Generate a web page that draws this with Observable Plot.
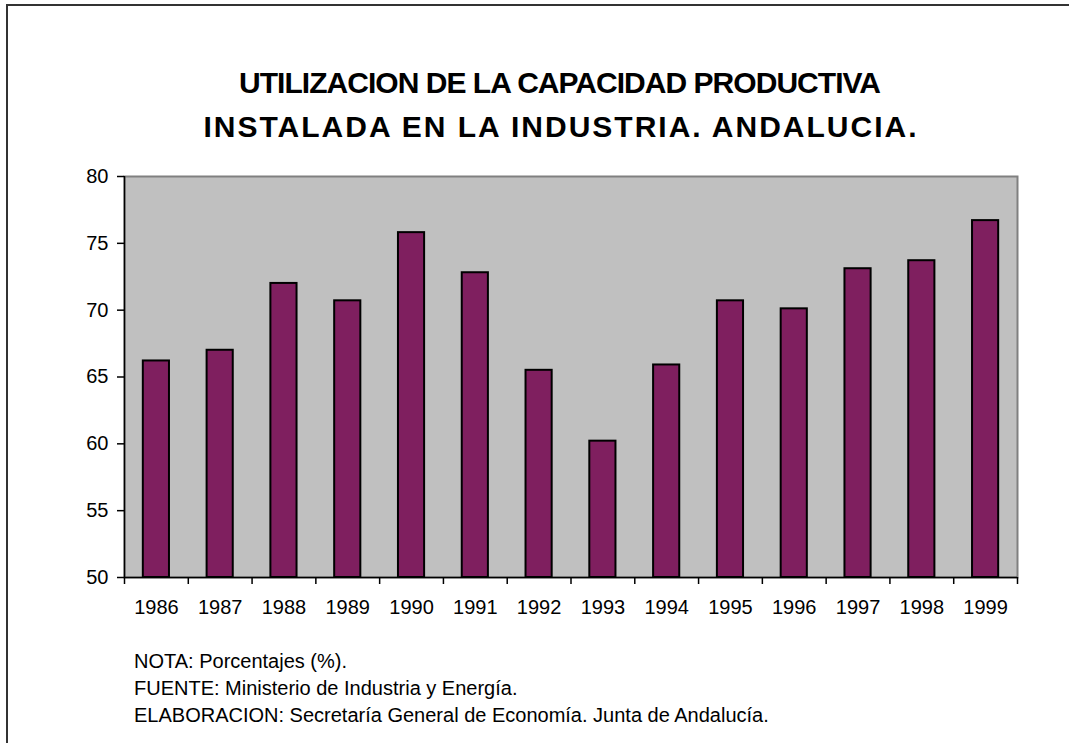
<!DOCTYPE html>
<html><head><meta charset="utf-8">
<script src="https://cdn.jsdelivr.net/npm/d3@7"></script>
<script src="https://cdn.jsdelivr.net/npm/@observablehq/plot@0.6"></script>
<style>
body{margin:0;background:#fff;}
#wrap{position:relative;width:1069px;height:743px;overflow:hidden;font-family:Arial,"Liberation Sans",sans-serif;background:#fff;}
#border{position:absolute;left:6px;top:4px;width:2000px;height:2000px;border-left:2px solid #333;border-top:2px solid #333;}
#title{position:absolute;left:0;top:0;}
#chart{position:absolute;left:0;top:150px;}
#notes{position:absolute;left:0;top:630px;}
</style></head><body>
<div id="wrap"><div id="border"></div><svg id="title" width="1069" height="150"></svg><div id="chart"></div><svg id="notes" width="1069" height="113"></svg></div>
<script>
const years = ["1986","1987","1988","1989","1990","1991","1992","1993","1994","1995","1996","1997","1998","1999"];
const values = [66.2, 67.0, 72.0, 70.7, 75.8, 72.8, 65.5, 60.2, 65.9, 70.7, 70.1, 73.1, 73.7, 76.7];
const yTicks = [50, 55, 60, 65, 70, 75, 80];
const titleLines = ["UTILIZACION DE LA CAPACIDAD PRODUCTIVA", "INSTALADA EN LA INDUSTRIA. ANDALUCIA."];
const noteLines = ["NOTA: Porcentajes (%).", "FUENTE: Ministerio de Industria y Energía.", "ELABORACION: Secretaría General de Economía. Junta de Andalucía."];

const font = "Arial, 'Liberation Sans', sans-serif";
const W = 1069, H = 480, mL = 124, mR = 52, mT = 26, mB = 53;
const step = (W - mL - mR) / years.length;
const data = years.map((year, i) => ({year, value: values[i]}));

const chart = Plot.plot({
  width: W, height: H, marginLeft: mL, marginRight: mR, marginTop: mT, marginBottom: mB,
  style: {fontFamily: font, fontSize: "20px", color: "#000", background: "transparent", overflow: "visible"},
  x: {domain: years, paddingInner: 0.59, paddingOuter: 0.295, round: false, label: null},
  y: {domain: [50, 80], label: null},
  marks: [
    Plot.frame({fill: "#c0c0c0", stroke: "#808080", strokeWidth: 2}),
    Plot.barY(data, {x: "year", y1: 50, y2: "value", fill: "#7f1f5f", stroke: "#000", strokeWidth: 2}),
    Plot.ruleY([50], {stroke: "#000", strokeWidth: 1.5}),
    Plot.ruleX([years[0]], {dx: -step / 2, stroke: "#000", strokeWidth: 1.5}),
    Plot.ruleX(years, {x: d => d, y1: 50, y2: 50, insetTop: 7, dx: -step / 2, stroke: "#000", strokeWidth: 1.5}),
    Plot.ruleX([years[years.length - 1]], {x: d => d, y1: 50, y2: 50, insetTop: 7, dx: step / 2, stroke: "#000", strokeWidth: 1.5}),
    Plot.axisY({ticks: yTicks, tickSize: 7, tickPadding: 9, fontSize: 20, stroke: "#000", strokeWidth: 1.5}),
    Plot.axisX({tickSize: 0, tickPadding: 22, fontSize: 20})
  ]
});
document.getElementById("chart").appendChild(chart);

const ns = "http://www.w3.org/2000/svg";
const tsvg = document.getElementById("title");
const tLens = [642, 713], tBase = [93, 137];
titleLines.forEach((t, i) => {
  const el = document.createElementNS(ns, "text");
  el.setAttribute("x", 560); el.setAttribute("y", tBase[i]);
  el.setAttribute("text-anchor", "middle");
  el.setAttribute("font-family", font); el.setAttribute("font-weight", "bold"); el.setAttribute("font-size", 30);
  el.setAttribute("textLength", tLens[i]); el.setAttribute("lengthAdjust", "spacing");
  el.textContent = t;
  tsvg.appendChild(el);
});
const nsvg = document.getElementById("notes");
noteLines.forEach((t, i) => {
  const el = document.createElementNS(ns, "text");
  el.setAttribute("x", 134); el.setAttribute("y", 38 + i * 27);
  el.setAttribute("font-family", font); el.setAttribute("font-size", 20);
  el.textContent = t;
  nsvg.appendChild(el);
});
</script>
</body></html>
